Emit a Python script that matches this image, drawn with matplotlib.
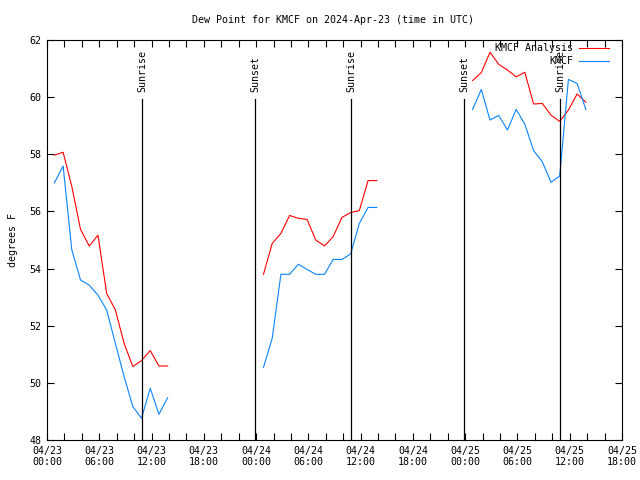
import numpy as np
import matplotlib
matplotlib.use("Agg")
import matplotlib.pyplot as plt

# hours since 2024-04-23 00:00 UTC of first observation in each block (hourly obs)
block_starts = [0.85, 24.85, 48.85]

analysis_blocks = [
    [57.97, 58.07, 56.87, 55.37, 54.79, 55.17, 53.13, 52.55, 51.38, 50.57, 50.78, 51.13, 50.59, 50.59],
    [53.80, 54.88, 55.23, 55.86, 55.76, 55.72, 55.00, 54.79, 55.12, 55.79, 55.96, 56.03, 57.08, 57.08],
    [60.58, 60.86, 61.57, 61.15, 60.95, 60.71, 60.87, 59.76, 59.78, 59.37, 59.15, 59.55, 60.11, 59.82],
]
obs_blocks = [
    [57.00, 57.59, 54.65, 53.60, 53.42, 53.07, 52.55, 51.38, 50.22, 49.17, 48.76, 49.81, 48.90, 49.48],
    [50.54, 51.56, 53.80, 53.80, 54.15, 53.97, 53.80, 53.80, 54.32, 54.32, 54.51, 55.58, 56.14, 56.14],
    [59.57, 60.27, 59.20, 59.36, 58.85, 59.57, 59.05, 58.13, 57.74, 57.02, 57.24, 60.62, 60.48, 59.57],
]

sun_times = [10.94, 23.88, 34.90, 47.90, 58.90]
sun_labels = ["Sunrise", "Sunset", "Sunrise", "Sunset", "Sunrise"]

xtick_hours = [0, 6, 12, 18, 24, 30, 36, 42, 48, 54, 60, 66]
xtick_labels = ["04/23\n00:00", "04/23\n06:00", "04/23\n12:00", "04/23\n18:00",
                "04/24\n00:00", "04/24\n06:00", "04/24\n12:00", "04/24\n18:00",
                "04/25\n00:00", "04/25\n06:00", "04/25\n12:00", "04/25\n18:00"]
yticks = [48, 50, 52, 54, 56, 58, 60, 62]

plt.rcParams['font.family'] = ['DejaVu Sans Mono']
FS = 7.2

fig = plt.figure(figsize=(6.4, 4.8), dpi=100)
ax = fig.add_axes([47/640, 40/480, 575/640, 400/480])

def build(blocks):
    xs, ys = [], []
    for s, vals in zip(block_starts, blocks):
        t = s + np.arange(len(vals))
        xs.extend(t.tolist()); ys.extend(vals)
        xs.append(np.nan); ys.append(np.nan)
    return np.array(xs), np.array(ys)

xa, ya = build(analysis_blocks)
xo, yo = build(obs_blocks)
ax.plot(xa, ya, color='#ff0000', lw=0.8, label='KMCF Analysis')
ax.plot(xo, yo, color='#0a84ff', lw=0.8, label='KMCF')

for t, lab in zip(sun_times, sun_labels):
    ax.plot([t, t], [48, 59.93], color='black', lw=0.9)
    ax.text(t, 60.18, lab, rotation=90, ha='center', va='bottom', fontsize=FS)

ax.set_xlim(0, 66)
ax.set_ylim(48, 62)
ax.set_xticks(xtick_hours)
ax.set_xticklabels(xtick_labels, fontsize=FS)
ax.set_xticks(np.arange(0, 67, 2), minor=True)
ax.set_yticks(yticks)
ax.set_yticklabels([str(v) for v in yticks], fontsize=FS)
ax.tick_params(which='both', direction='in', top=True, right=True, length=5, width=0.8, pad=4)
for sp in ax.spines.values():
    sp.set_linewidth(0.8)

ax.set_ylabel('degrees F', fontsize=FS, labelpad=8)
fig.text(333/640, 1 - 20/480, 'Dew Point for KMCF on 2024-Apr-23 (time in UTC)',
         ha='center', va='center', fontsize=FS)

leg = ax.legend(loc='upper right', bbox_to_anchor=(1 - 8/575, 1 + 2/400),
                frameon=False, markerfirst=False, fontsize=FS,
                handlelength=3.0, handletextpad=0.6, borderaxespad=0.2,
                labelspacing=0.3, borderpad=0.3)
for t in leg.get_texts():
    t.set_ha('right')
leg._legend_box.align = 'right'

fig.savefig('out.png', dpi=100)
